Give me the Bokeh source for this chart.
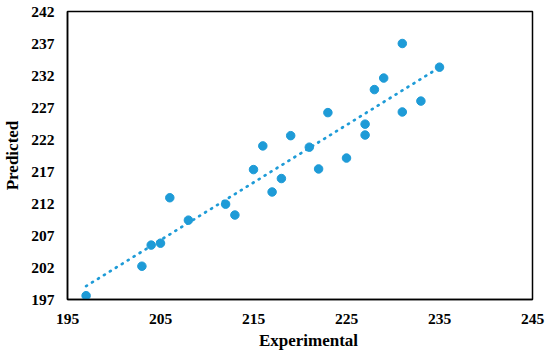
import numpy as np
from bokeh.plotting import figure
from bokeh.models import Range1d, FixedTicker, ColumnDataSource
from bokeh.embed import file_html
from bokeh.resources import INLINE

# Data
experimental = [197, 203, 204, 205, 206, 208, 212, 213, 215, 216, 217, 218, 219,
                221, 222, 223, 225, 227, 227, 228, 229, 231, 231, 233, 235]
predicted = [197.6, 202.2, 205.5, 205.8, 212.9, 209.4, 211.9, 210.2, 217.3, 221.0,
             213.8, 215.9, 222.6, 220.8, 217.4, 226.2, 219.1, 222.7, 224.4, 229.8,
             231.6, 237.0, 226.3, 228.0, 233.3]
x_ticks = [195, 205, 215, 225, 235, 245]
y_ticks = [197, 202, 207, 212, 217, 222, 227, 232, 237, 242]

BLUE = "#1E9BD7"
FONT = "Liberation Serif"

p = figure(width=545, height=355, output_backend="svg", toolbar_location=None,
           x_range=Range1d(x_ticks[0], x_ticks[-1]),
           y_range=Range1d(y_ticks[0], y_ticks[-1]))
p.min_border_left = 66
p.min_border_right = 13
p.min_border_top = 11
p.min_border_bottom = 56
p.grid.visible = False
p.background_fill_color = "white"
p.border_fill_color = "white"
p.outline_line_color = "black"
p.outline_line_width = 1.5

# Trendline from least squares fit
slope, intercept = np.polyfit(experimental, predicted, 1)
tx = [min(experimental), max(experimental)]
ty = [slope * v + intercept for v in tx]
p.line(tx, ty, line_color=BLUE, line_width=2.7, line_dash="1 6", line_cap="round")

src = ColumnDataSource(dict(x=experimental, y=predicted))
p.scatter("x", "y", source=src, size=8.5, fill_color=BLUE, line_color=BLUE)

p.xaxis.ticker = FixedTicker(ticks=x_ticks)
p.yaxis.ticker = FixedTicker(ticks=y_ticks)
for ax in (p.xaxis[0], p.yaxis[0]):
    ax.major_tick_in = 0
    ax.major_tick_out = 0
    ax.minor_tick_in = 0
    ax.minor_tick_out = 0
    ax.axis_line_color = "black"
    ax.axis_line_width = 1.5
    ax.major_label_text_font = FONT
    ax.major_label_text_font_style = "bold"
    ax.major_label_text_font_size = "15.5px"
    ax.major_label_text_color = "black"
    ax.axis_label_text_font = FONT
    ax.axis_label_text_font_style = "bold"
    ax.axis_label_text_font_size = "17px"
    ax.axis_label_text_color = "black"

# non-breaking spaces shift the title slightly right, as in the original
p.xaxis.axis_label = "\u00a0" * 4 + "Experimental"
p.yaxis.axis_label = "Predicted"
p.xaxis.major_label_standoff = 14
p.xaxis.axis_label_standoff = 4
p.yaxis.major_label_standoff = 13
p.yaxis.axis_label_standoff = 6

open("out.html", "w").write(file_html(p, INLINE))
